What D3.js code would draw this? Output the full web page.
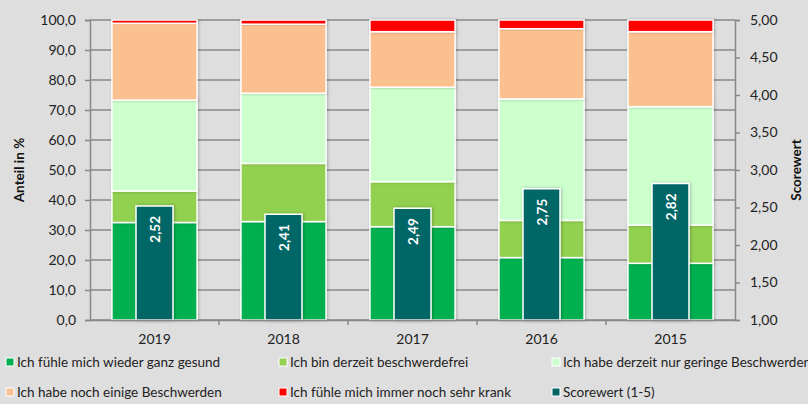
<!DOCTYPE html>
<html>
<head>
<meta charset="utf-8">
<script src="https://cdn.jsdelivr.net/npm/d3@7"></script>
<style>
  body { margin: 0; background: #dedede; }
  svg { display: block; font-family: Lato, "Open Sans", sans-serif; }
</style>
</head>
<body>
<svg id="chart" width="808" height="404"></svg>
<script>
const years = ['2019', '2018', '2017', '2016', '2015'];
const seriesNames = [
  'Ich fühle mich wieder ganz gesund',
  'Ich bin derzeit beschwerdefrei',
  'Ich habe derzeit nur geringe Beschwerden',
  'Ich habe noch einige Beschwerden',
  'Ich fühle mich immer noch sehr krank'
];
const gesund = [32.5, 32.8, 31.1, 20.8, 18.9];
const beschwerdefrei = [10.5, 19.4, 15.0, 12.4, 12.7];
const gering = [30.3, 23.4, 31.5, 40.5, 39.5];
const einige = [25.6, 23.0, 18.5, 23.4, 25.0];
const krank = [1.1, 1.4, 3.9, 2.9, 3.9];
const score = [2.52, 2.41, 2.49, 2.75, 2.82];
const leftTicks = [0, 10, 20, 30, 40, 50, 60, 70, 80, 90, 100];
const rightTicks = [1, 1.5, 2, 2.5, 3, 3.5, 4, 4.5, 5];
const colors = ['#00b050', '#92d050', '#ccffcc', '#fac090', '#ff0000'];
const scoreColor = '#006666';

const svg = d3.select('#chart');
const margin = { top: 20, right: 73, bottom: 84, left: 90 };
const width = 808 - margin.left - margin.right;
const height = 404 - margin.top - margin.bottom;

const defs = svg.append('defs');
defs.append('filter').attr('id', 'shadow')
  .attr('x', '-20%').attr('y', '-20%').attr('width', '140%').attr('height', '140%')
  .append('feDropShadow')
  .attr('dx', 1).attr('dy', 0).attr('stdDeviation', 1.5)
  .attr('flood-color', '#000').attr('flood-opacity', 0.25);

const g = svg.append('g').attr('transform', `translate(${margin.left},${margin.top})`);

const x = d3.scaleBand().domain(years).range([0, width]).paddingInner(0.34).paddingOuter(0.17);
const y = d3.scaleLinear().domain([0, 100]).range([height, 0]);
const y2 = d3.scaleLinear().domain([1, 5]).range([height, 0]);

const fmt1 = d => d.toFixed(1).replace('.', ',');
const fmt2 = d => d.toFixed(2).replace('.', ',');

// gridlines
g.append('g').selectAll('line').data(leftTicks).join('line')
  .attr('x1', 0).attr('x2', width)
  .attr('y1', d => y(d)).attr('y2', d => y(d))
  .attr('stroke', '#888').attr('stroke-width', 1.5);

// stacked bars
const table = years.map((yr, i) => ({
  year: yr, s0: gesund[i], s1: beschwerdefrei[i], s2: gering[i], s3: einige[i], s4: krank[i]
}));
const stack = d3.stack().keys(['s0', 's1', 's2', 's3', 's4'])(table);

g.append('g').selectAll('g').data(stack).join('g')
  .attr('fill', (d, i) => colors[i])
  .selectAll('rect').data(d => d).join('rect')
  .attr('x', d => x(d.data.year))
  .attr('width', x.bandwidth())
  .attr('y', d => y(d[1]))
  .attr('height', d => y(d[0]) - y(d[1]))
  .attr('stroke', '#fff').attr('stroke-width', 1.5)
  .attr('filter', 'url(#shadow)');

// score bars
const sw = 37;
const sbars = g.append('g').selectAll('g').data(years).join('g');
sbars.append('rect')
  .attr('x', (d, i) => x(d) + x.bandwidth() / 2 - sw / 2)
  .attr('width', sw)
  .attr('y', (d, i) => y2(score[i]))
  .attr('height', (d, i) => y2(1) - y2(score[i]))
  .attr('fill', scoreColor)
  .attr('stroke', '#fff').attr('stroke-width', 1.5)
  .attr('filter', 'url(#shadow)');
sbars.append('text')
  .attr('transform', (d, i) => `translate(${x(d) + x.bandwidth() / 2 + 5},${y2(score[i]) + 10}) rotate(-90)`)
  .attr('text-anchor', 'end')
  .attr('fill', '#fff').attr('font-weight', 'bold').attr('font-size', 13.5)
  .text((d, i) => fmt2(score[i]));

// axes
const axisColor = '#888';
const left = g.append('g')
  .call(d3.axisLeft(y).tickValues(leftTicks).tickFormat(fmt1).tickSize(5).tickPadding(9));
const bottom = g.append('g').attr('transform', `translate(0,${height})`)
  .call(d3.axisBottom(x).tickSize(0).tickPadding(14));
const right = g.append('g').attr('transform', `translate(${width},0)`)
  .call(d3.axisRight(y2).tickValues(rightTicks).tickFormat(fmt2).tickSize(5).tickPadding(10));

[left, bottom, right].forEach(a => {
  a.select('.domain').attr('stroke', axisColor).attr('stroke-width', 1.5);
  a.selectAll('.tick line').attr('stroke', axisColor).attr('stroke-width', 1.5);
  a.selectAll('.tick text').attr('fill', '#222').attr('font-size', 14)
    .attr('font-family', 'Lato, "Open Sans", sans-serif');
});

// category separators under the axis
g.append('g').selectAll('line').data(d3.range(1, years.length)).join('line')
  .attr('x1', d => d * width / years.length).attr('x2', d => d * width / years.length)
  .attr('y1', height).attr('y2', height + 5)
  .attr('stroke', axisColor).attr('stroke-width', 1.5);

// axis titles
svg.append('text')
  .attr('transform', `translate(24,${margin.top + height / 2}) rotate(-90)`)
  .attr('text-anchor', 'middle').attr('font-weight', 'bold').attr('font-size', 13.5).attr('fill', '#111')
  .text('Anteil in %');
svg.append('text')
  .attr('transform', `translate(801,${margin.top + height / 2}) rotate(-90)`)
  .attr('text-anchor', 'middle').attr('font-weight', 'bold').attr('font-size', 13.5).attr('fill', '#111')
  .text('Scorewert');

// legend
const legendItems = seriesNames.map((n, i) => ({ name: n, color: colors[i] }))
  .concat([{ name: 'Scorewert (1-5)', color: scoreColor }]);
const colX = [6, 279, 552];
const rowY = [362, 392];
const lg = svg.append('g').selectAll('g').data(legendItems).join('g')
  .attr('transform', (d, i) => `translate(${colX[i % 3]},${rowY[Math.floor(i / 3)]})`);
lg.append('rect').attr('x', 0).attr('y', -4).attr('width', 8).attr('height', 8)
  .attr('fill', d => d.color).attr('stroke', '#fff').attr('stroke-width', 1);
lg.append('text').attr('x', 11).attr('y', 0).attr('dy', '0.35em')
  .attr('font-size', 13.5).attr('fill', '#222')
  .text(d => d.name);
</script>
</body>
</html>
